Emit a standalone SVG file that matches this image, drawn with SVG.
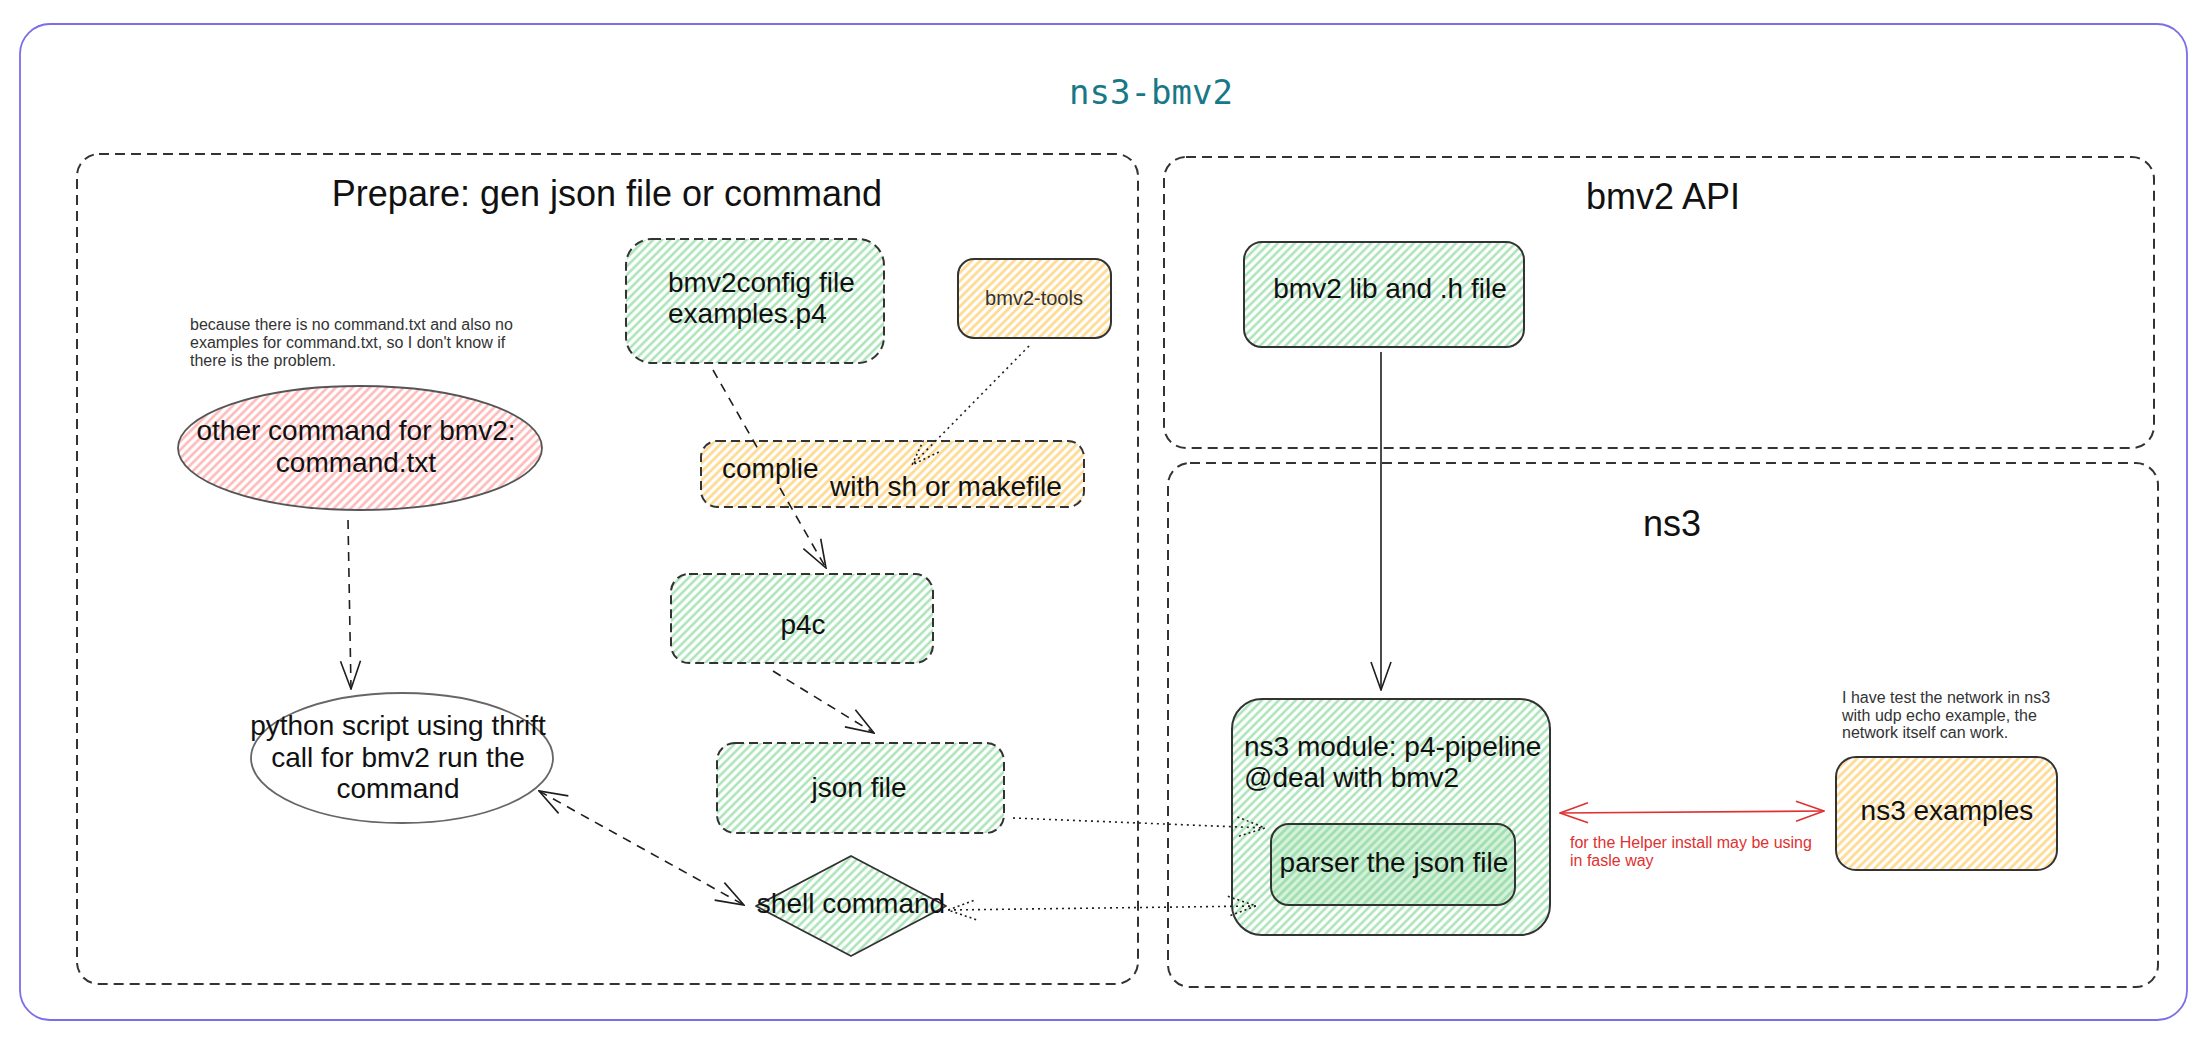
<svg xmlns="http://www.w3.org/2000/svg" width="2207" height="1048" viewBox="0 0 2207 1048">
<defs>
<style>
.t{font-family:"Liberation Sans",Arial,sans-serif;fill:#111}
.f28{font-size:28px}
.f36{font-size:36px}
.f16{font-size:16px;fill:#333}
.f20{font-size:20px;fill:#333}
.mid{text-anchor:middle}
.cont{fill:none;stroke:#333;stroke-width:2;stroke-dasharray:10 6}
.nd{stroke:#333;stroke-width:2;stroke-dasharray:9 5}
.ns{stroke:#333;stroke-width:2}
.dash{fill:none;stroke:#1e1e1e;stroke-width:1.6;stroke-dasharray:9 7}
.dot{fill:none;stroke:#1e1e1e;stroke-width:1.6;stroke-dasharray:2 4}
.sol{fill:none;stroke:#1e1e1e;stroke-width:1.6}
.red{fill:none;stroke:#e03131;stroke-width:1.6}
</style>
<pattern id="hg" patternUnits="userSpaceOnUse" width="6" height="6" patternTransform="rotate(45)">
<rect width="6" height="6" fill="#fff"/>
<line x1="1.5" y1="0" x2="1.5" y2="6" stroke="#a3e2b2" stroke-width="2.3"/>
</pattern>
<pattern id="hgd" patternUnits="userSpaceOnUse" width="6" height="6" patternTransform="rotate(45)">
<rect width="6" height="6" fill="#d2f3d9"/>
<line x1="1.5" y1="0" x2="1.5" y2="6" stroke="#9fdcae" stroke-width="2.6"/>
</pattern>
<pattern id="ho" patternUnits="userSpaceOnUse" width="6" height="6" patternTransform="rotate(45)">
<rect width="6" height="6" fill="#fff"/>
<line x1="1.5" y1="0" x2="1.5" y2="6" stroke="#ffd98c" stroke-width="2.6"/>
</pattern>
<pattern id="hr" patternUnits="userSpaceOnUse" width="6" height="6" patternTransform="rotate(45)">
<rect width="6" height="6" fill="#fff"/>
<line x1="1.5" y1="0" x2="1.5" y2="6" stroke="#ffb4b4" stroke-width="2.4"/>
</pattern>
<marker id="ah" viewBox="0 0 30 24" refX="29" refY="12" markerWidth="30" markerHeight="24" markerUnits="userSpaceOnUse" orient="auto-start-reverse">
<path d="M1,2 L29,12 L1,22" fill="none" stroke="#1e1e1e" stroke-width="1.6"/>
</marker>
<marker id="ahd" viewBox="0 0 30 24" refX="29" refY="12" markerWidth="30" markerHeight="24" markerUnits="userSpaceOnUse" orient="auto-start-reverse">
<path d="M1,2 L29,12 L1,22" fill="none" stroke="#1e1e1e" stroke-width="1.6" stroke-dasharray="2 3"/>
</marker>
<marker id="ahr" viewBox="0 0 30 24" refX="29" refY="12" markerWidth="30" markerHeight="24" markerUnits="userSpaceOnUse" orient="auto-start-reverse">
<path d="M1,2 L29,12 L1,22" fill="none" stroke="#e03131" stroke-width="1.6"/>
</marker>
</defs>
<rect width="2207" height="1048" fill="#fff"/>

<g id="frame">
<rect x="20" y="24" width="2167" height="996" rx="30" fill="none" stroke="#7b6ee8" stroke-width="1.8"/>
<text x="1151" y="104" font-family="'DejaVu Sans Mono',monospace" font-size="34" fill="#197887" text-anchor="middle">ns3-bmv2</text>
</g>

<g id="prepare">
<rect class="cont" x="77" y="154" width="1061" height="830" rx="22"/>
<text class="t f36 mid" x="607" y="206">Prepare: gen json file or command</text>
</g>
<g id="bmv2api">
<rect class="cont" x="1164" y="157" width="990" height="291" rx="22"/>
<text class="t f36 mid" x="1663" y="209">bmv2 API</text>
</g>
<g id="ns3">
<rect class="cont" x="1168" y="463" width="990" height="524" rx="22"/>
<text class="t f36 mid" x="1672" y="536">ns3</text>
</g>

<g id="note-command">
<text class="t f16" x="190" y="330">because there is no command.txt and also no</text>
<text class="t f16" x="190" y="348">examples for command.txt, so I don't know if</text>
<text class="t f16" x="190" y="366">there is the problem.</text>
</g>
<g id="other-command">
<ellipse cx="360" cy="448" rx="182" ry="62" fill="url(#hr)" stroke="#555" stroke-width="1.8"/>
<text class="t f28 mid" x="356" y="440">other command for bmv2:</text>
<text class="t f28 mid" x="356" y="472">command.txt</text>
</g>
<g id="python-script">
<ellipse cx="402" cy="758" rx="151" ry="65" fill="#fff" stroke="#666" stroke-width="1.8"/>
<text class="t f28 mid" x="398" y="735">python script using thrift</text>
<text class="t f28 mid" x="398" y="767">call for bmv2 run the</text>
<text class="t f28 mid" x="398" y="798">command</text>
</g>
<g id="bmv2config">
<rect class="nd" x="626" y="239" width="258" height="124" rx="26" fill="url(#hg)"/>
<text class="t f28" x="668" y="292">bmv2config file</text>
<text class="t f28" x="668" y="323">examples.p4</text>
</g>
<g id="bmv2-tools">
<rect class="ns" x="958" y="259" width="153" height="79" rx="16" fill="url(#ho)"/>
<text class="t f20 mid" x="1034" y="305">bmv2-tools</text>
</g>
<g id="complie">
<rect class="nd" x="701" y="441" width="383" height="66" rx="16" fill="url(#ho)"/>
<text class="t f28" x="722" y="478">complie</text>
<text class="t f28" x="830" y="496">with sh or makefile</text>
</g>
<g id="p4c">
<rect class="nd" x="671" y="574" width="262" height="89" rx="18" fill="url(#hg)"/>
<text class="t f28 mid" x="803" y="634">p4c</text>
</g>
<g id="json-file">
<rect class="nd" x="717" y="743" width="287" height="90" rx="18" fill="url(#hg)"/>
<text class="t f28 mid" x="859" y="797">json file</text>
</g>
<g id="shell-command">
<path d="M851,856 L946,906 L851,956 L756,906 Z" fill="url(#hg)" stroke="#333" stroke-width="1.8" stroke-linejoin="round"/>
<text class="t f28 mid" x="851" y="913">shell command</text>
</g>
<g id="bmv2-lib">
<rect class="ns" x="1244" y="242" width="280" height="105" rx="18" fill="url(#hg)"/>
<text class="t f28 mid" x="1390" y="298">bmv2 lib and .h file</text>
</g>
<g id="ns3-module">
<rect class="ns" x="1232" y="699" width="318" height="236" rx="30" fill="url(#hg)"/>
<text class="t f28" x="1244" y="756">ns3 module: p4-pipeline</text>
<text class="t f28" x="1244" y="787">@deal with bmv2</text>
</g>
<g id="parser">
<rect class="ns" x="1271" y="824" width="244" height="81" rx="18" fill="url(#hgd)"/>
<text class="t f28 mid" x="1394" y="872">parser the json file</text>
</g>
<g id="note-ns3">
<text class="t f16" x="1842" y="703">I have test the network in ns3</text>
<text class="t f16" x="1842" y="721">with udp echo example, the</text>
<text class="t f16" x="1842" y="738">network itself can work.</text>
</g>
<g id="ns3-examples">
<rect class="ns" x="1836" y="757" width="221" height="113" rx="20" fill="url(#ho)"/>
<text class="t f28 mid" x="1947" y="820">ns3 examples</text>
</g>

<g id="connectors">
<path class="dash" d="M348,520 L351,689" marker-end="url(#ah)"/>
<path class="dash" d="M713,370 L757.5,448 M780,488 L826,568" marker-end="url(#ah)"/>
<path class="dot" d="M1029,346 L912,465" marker-end="url(#ahd)"/>
<path class="dash" d="M773,671 L874,733" marker-end="url(#ah)"/>
<path class="dash" d="M539,791 L744,905" marker-start="url(#ah)" marker-end="url(#ah)"/>
<path class="dot" d="M1013,818 L1265,828" marker-end="url(#ahd)"/>
<path class="dot" d="M948,910 L1256,906" marker-start="url(#ahd)" marker-end="url(#ahd)"/>
<path class="sol" d="M1381,352 L1381,690" marker-end="url(#ah)"/>
<path class="red" d="M1560,813 L1824,811" marker-start="url(#ahr)" marker-end="url(#ahr)"/>
<text class="t" x="1570" y="848" font-size="16" style="fill:#e03131">for the Helper install may be using</text>
<text class="t" x="1570" y="866" font-size="16" style="fill:#e03131">in fasle way</text>
</g>
</svg>
